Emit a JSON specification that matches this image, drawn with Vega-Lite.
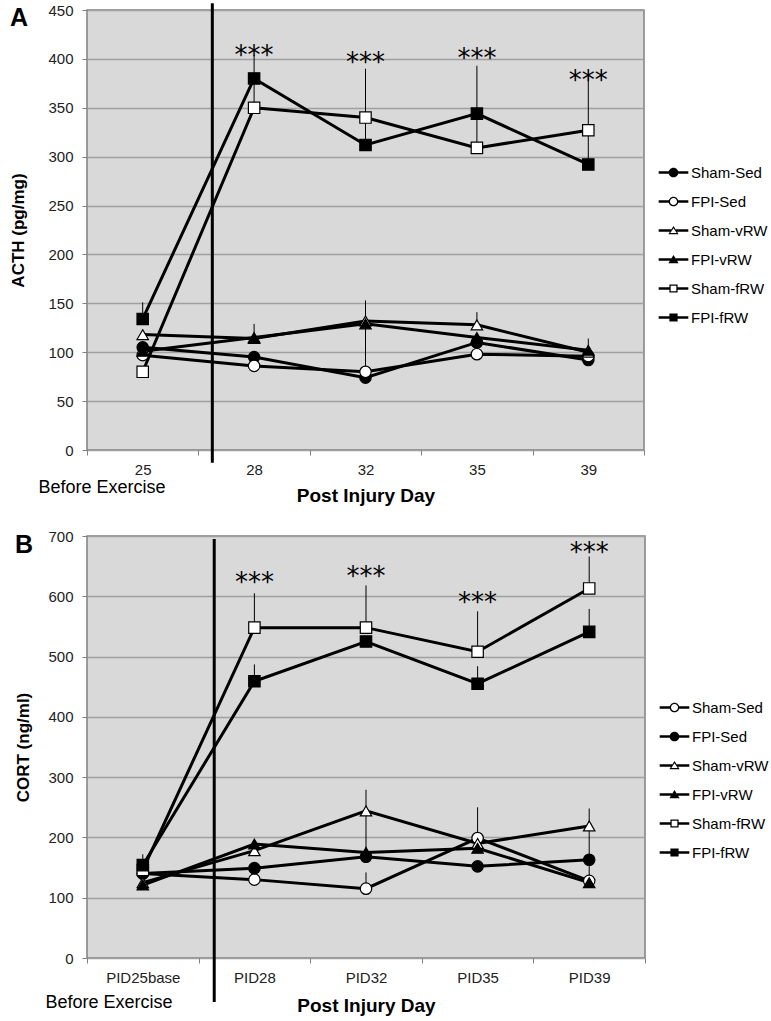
{
  "$schema": "https://vega.github.io/schema/vega-lite/v6.json",
  "background": "white",
  "padding": {"left": 9, "top": 0, "right": 0, "bottom": 0},
  "spacing": 22,
  "config": {
    "font": "Liberation Sans",
    "view": {"fill": "#d9d9d9", "stroke": "#808080", "strokeWidth": 1.5},
    "axis": {"labelFont": "Liberation Sans", "labelFontSize": 15, "labelColor": "#222222", "titleFont": "Liberation Sans", "titleColor": "#000000", "domainColor": "#808080", "tickColor": "#808080", "gridColor": "#a0a0a0", "gridWidth": 1.5},
    "title": {"font": "Liberation Sans", "fontSize": 25, "fontWeight": "bold", "color": "#000000", "anchor": "start", "frame": "bounds"}
  },
  "datasets": {
    "acth": [
      {"group": "Sham-Sed", "day": "25", "value": 105}, {"group": "Sham-Sed", "day": "28", "value": 95}, {"group": "Sham-Sed", "day": "32", "value": 74}, {"group": "Sham-Sed", "day": "35", "value": 110}, {"group": "Sham-Sed", "day": "39", "value": 92},
      {"group": "FPI-Sed", "day": "25", "value": 97}, {"group": "FPI-Sed", "day": "28", "value": 86}, {"group": "FPI-Sed", "day": "32", "value": 80}, {"group": "FPI-Sed", "day": "35", "value": 98}, {"group": "FPI-Sed", "day": "39", "value": 96},
      {"group": "Sham-vRW", "day": "25", "value": 118}, {"group": "Sham-vRW", "day": "28", "value": 114}, {"group": "Sham-vRW", "day": "32", "value": 132}, {"group": "Sham-vRW", "day": "35", "value": 128}, {"group": "Sham-vRW", "day": "39", "value": 100},
      {"group": "FPI-vRW", "day": "25", "value": 101}, {"group": "FPI-vRW", "day": "28", "value": 115}, {"group": "FPI-vRW", "day": "32", "value": 129}, {"group": "FPI-vRW", "day": "35", "value": 115}, {"group": "FPI-vRW", "day": "39", "value": 102},
      {"group": "Sham-fRW", "day": "25", "value": 80}, {"group": "Sham-fRW", "day": "28", "value": 350}, {"group": "Sham-fRW", "day": "32", "value": 340}, {"group": "Sham-fRW", "day": "35", "value": 309}, {"group": "Sham-fRW", "day": "39", "value": 327},
      {"group": "FPI-fRW", "day": "25", "value": 134}, {"group": "FPI-fRW", "day": "28", "value": 380}, {"group": "FPI-fRW", "day": "32", "value": 312}, {"group": "FPI-fRW", "day": "35", "value": 344}, {"group": "FPI-fRW", "day": "39", "value": 292}
    ],
    "acthErr": [
      {"group": "FPI-fRW", "day": "25", "value": 134, "hi": 151},
      {"group": "Sham-fRW", "day": "28", "value": 350, "hi": 404},
      {"group": "FPI-fRW", "day": "32", "value": 312, "hi": 390},
      {"group": "Sham-fRW", "day": "35", "value": 309, "hi": 393},
      {"group": "FPI-fRW", "day": "39", "value": 292, "hi": 381},
      {"group": "Sham-vRW", "day": "32", "value": 132, "hi": 153},
      {"group": "FPI-Sed", "day": "32", "value": 80, "hi": 130},
      {"group": "Sham-vRW", "day": "35", "value": 128, "hi": 141},
      {"group": "FPI-vRW", "day": "28", "value": 115, "hi": 129},
      {"group": "FPI-vRW", "day": "39", "value": 102, "hi": 114}
    ],
    "acthSig": [
      {"day": "28", "y": 411, "label": "***"}, {"day": "32", "y": 404, "label": "***"}, {"day": "35", "y": 408, "label": "***"}, {"day": "39", "y": 386, "label": "***"}
    ],
    "acthSplit": [{"day": "28", "label": "exercise start"}],
    "cort": [
      {"group": "Sham-Sed", "day": "PID25base", "value": 140}, {"group": "Sham-Sed", "day": "PID28", "value": 130}, {"group": "Sham-Sed", "day": "PID32", "value": 115}, {"group": "Sham-Sed", "day": "PID35", "value": 199}, {"group": "Sham-Sed", "day": "PID39", "value": 128},
      {"group": "FPI-Sed", "day": "PID25base", "value": 140}, {"group": "FPI-Sed", "day": "PID28", "value": 149}, {"group": "FPI-Sed", "day": "PID32", "value": 168}, {"group": "FPI-Sed", "day": "PID35", "value": 152}, {"group": "FPI-Sed", "day": "PID39", "value": 163},
      {"group": "Sham-vRW", "day": "PID25base", "value": 125}, {"group": "Sham-vRW", "day": "PID28", "value": 178}, {"group": "Sham-vRW", "day": "PID32", "value": 244}, {"group": "Sham-vRW", "day": "PID35", "value": 190}, {"group": "Sham-vRW", "day": "PID39", "value": 219},
      {"group": "FPI-vRW", "day": "PID25base", "value": 121}, {"group": "FPI-vRW", "day": "PID28", "value": 189}, {"group": "FPI-vRW", "day": "PID32", "value": 175}, {"group": "FPI-vRW", "day": "PID35", "value": 182}, {"group": "FPI-vRW", "day": "PID39", "value": 125},
      {"group": "Sham-fRW", "day": "PID25base", "value": 146}, {"group": "Sham-fRW", "day": "PID28", "value": 548}, {"group": "Sham-fRW", "day": "PID32", "value": 548}, {"group": "Sham-fRW", "day": "PID35", "value": 508}, {"group": "Sham-fRW", "day": "PID39", "value": 613},
      {"group": "FPI-fRW", "day": "PID25base", "value": 154}, {"group": "FPI-fRW", "day": "PID28", "value": 459}, {"group": "FPI-fRW", "day": "PID32", "value": 525}, {"group": "FPI-fRW", "day": "PID35", "value": 455}, {"group": "FPI-fRW", "day": "PID39", "value": 541}
    ],
    "cortErr": [
      {"group": "FPI-fRW", "day": "PID25base", "value": 154, "hi": 172},
      {"group": "Sham-fRW", "day": "PID28", "value": 548, "hi": 605},
      {"group": "Sham-fRW", "day": "PID32", "value": 548, "hi": 618},
      {"group": "Sham-fRW", "day": "PID35", "value": 508, "hi": 575},
      {"group": "Sham-fRW", "day": "PID39", "value": 613, "hi": 666},
      {"group": "FPI-fRW", "day": "PID28", "value": 459, "hi": 487},
      {"group": "FPI-fRW", "day": "PID35", "value": 455, "hi": 484},
      {"group": "FPI-fRW", "day": "PID39", "value": 541, "hi": 579},
      {"group": "Sham-vRW", "day": "PID32", "value": 244, "hi": 279},
      {"group": "FPI-vRW", "day": "PID32", "value": 175, "hi": 244},
      {"group": "Sham-Sed", "day": "PID35", "value": 199, "hi": 250},
      {"group": "Sham-vRW", "day": "PID39", "value": 219, "hi": 248},
      {"group": "Sham-Sed", "day": "PID39", "value": 128, "hi": 219},
      {"group": "Sham-Sed", "day": "PID32", "value": 115, "hi": 142}
    ],
    "cortSig": [
      {"day": "PID28", "y": 635, "label": "***"}, {"day": "PID32", "y": 645, "label": "***"}, {"day": "PID35", "y": 602, "label": "***"}, {"day": "PID39", "y": 685, "label": "***"}
    ],
    "cortSplit": [{"day": "PID28", "label": "exercise start"}]
  },
  "vconcat": [
    {
      "title": {"text": "A", "offset": -29},
      "width": 557,
      "height": 440,
      "resolve": {"scale": {"shape": "independent", "fill": "independent"}, "axis": {"x": "independent"}},
      "layer": [
        {
          "data": {"name": "acthSplit"},
          "mark": {"type": "rule", "color": "black", "strokeWidth": 3},
          "encoding": {
            "x": {"field": "day", "type": "nominal", "bandPosition": 0.125, "scale": {"type": "band", "domain": ["25", "28", "32", "35", "39"], "paddingInner": 0, "paddingOuter": 0}, "axis": null},
            "y": {"datum": 457, "type": "quantitative", "scale": {"domain": [0, 450], "nice": false},
                  "axis": {"title": "ACTH (pg/mg)", "titleFontSize": 17, "titleFontWeight": "bold", "titlePadding": 20, "values": [0, 50, 100, 150, 200, 250, 300, 350, 400, 450], "grid": true, "tickSize": 5, "labelPadding": 9, "domain": false}},
            "y2": {"datum": -13}
          }
        },
        {
          "data": {"name": "acthErr"},
          "mark": {"type": "rule", "color": "black", "strokeWidth": 1},
          "encoding": {
            "x": {"field": "day", "type": "nominal", "scale": {"type": "band", "domain": ["25", "28", "32", "35", "39"], "paddingInner": 0, "paddingOuter": 0},
                  "axis": {"orient": "bottom", "title": "Before Exercise", "labels": false, "ticks": false, "domain": false, "grid": false, "titleFontWeight": "normal", "titleFontSize": 18, "titleAnchor": "start", "titleAlign": "left", "titleX": -49, "titleY": 37, "titleBaseline": "middle"}},
            "y": {"field": "value", "type": "quantitative", "scale": {"domain": [0, 450], "nice": false},
                  "axis": {"title": "ACTH (pg/mg)", "titleFontSize": 17, "titleFontWeight": "bold", "titlePadding": 20, "values": [0, 50, 100, 150, 200, 250, 300, 350, 400, 450], "grid": true, "tickSize": 5, "labelPadding": 9, "domain": false}},
            "y2": {"field": "hi"}
          }
        },
        {
          "data": {"name": "acth"},
          "mark": {"type": "line", "color": "black", "strokeWidth": 3},
          "encoding": {
            "x": {"field": "day", "type": "nominal", "scale": {"type": "band", "domain": ["25", "28", "32", "35", "39"], "paddingInner": 0, "paddingOuter": 0},
                  "axis": {"orient": "bottom", "title": "Post Injury Day", "titleFontSize": 19, "titleFontWeight": "bold", "titleY": 45, "titleBaseline": "middle", "labelAngle": 0, "labelPadding": 7, "tickBand": "extent", "tickSize": 5, "domain": false, "grid": false}},
            "y": {"field": "value", "type": "quantitative", "scale": {"domain": [0, 450], "nice": false},
                  "axis": {"title": "ACTH (pg/mg)", "titleFontSize": 17, "titleFontWeight": "bold", "titlePadding": 20, "values": [0, 50, 100, 150, 200, 250, 300, 350, 400, 450], "grid": true, "tickSize": 5, "labelPadding": 9, "domain": false}},
            "detail": {"field": "group", "type": "nominal"}
          }
        },
        {
          "data": {"name": "acth"},
          "mark": {"type": "point", "filled": true, "stroke": "black", "strokeWidth": 1.2, "size": 130, "opacity": 1},
          "encoding": {
            "x": {"field": "day", "type": "nominal", "scale": {"type": "band", "domain": ["25", "28", "32", "35", "39"], "paddingInner": 0, "paddingOuter": 0}, "axis": null},
            "y": {"field": "value", "type": "quantitative", "scale": {"domain": [0, 450], "nice": false},
                  "axis": {"title": "ACTH (pg/mg)", "titleFontSize": 17, "titleFontWeight": "bold", "titlePadding": 20, "values": [0, 50, 100, 150, 200, 250, 300, 350, 400, 450], "grid": true, "tickSize": 5, "labelPadding": 9, "domain": false}},
            "shape": {"field": "group", "type": "nominal", "scale": {"domain": ["Sham-Sed", "FPI-Sed", "Sham-vRW", "FPI-vRW", "Sham-fRW", "FPI-fRW"], "range": ["circle", "circle", "triangle-up", "triangle-up", "square", "square"]}, "legend": null},
            "fill": {"field": "group", "type": "nominal", "scale": {"domain": ["Sham-Sed", "FPI-Sed", "Sham-vRW", "FPI-vRW", "Sham-fRW", "FPI-fRW"], "range": ["black", "white", "white", "black", "white", "black"]}, "legend": null}
          }
        },
        {
          "data": {"name": "acth"},
          "mark": {"type": "point", "filled": true, "color": "black", "opacity": 0},
          "encoding": {
            "x": {"field": "day", "type": "nominal", "scale": {"type": "band", "domain": ["25", "28", "32", "35", "39"], "paddingInner": 0, "paddingOuter": 0}, "axis": null},
            "y": {"field": "value", "type": "quantitative", "scale": {"domain": [0, 450], "nice": false},
                  "axis": {"title": "ACTH (pg/mg)", "titleFontSize": 17, "titleFontWeight": "bold", "titlePadding": 20, "values": [0, 50, 100, 150, 200, 250, 300, 350, 400, 450], "grid": true, "tickSize": 5, "labelPadding": 9, "domain": false}},
            "shape": {"field": "group", "type": "nominal",
                      "scale": {"domain": ["Sham-Sed", "FPI-Sed", "Sham-vRW", "FPI-vRW", "Sham-fRW", "FPI-fRW"],
                                "range": [
                                  "M-2.6,-0.24H-0.8V0.24H-2.6ZM0.8,-0.24H2.6V0.24H0.8ZM0.85,0A0.85,0.85,0,1,1,-0.85,0A0.85,0.85,0,1,1,0.85,0Z",
                                  "M-2.6,-0.24H-0.8V0.24H-2.6ZM0.8,-0.24H2.6V0.24H0.8ZM0.85,0A0.85,0.85,0,1,1,-0.85,0A0.85,0.85,0,1,1,0.85,0ZM0.62,0A0.62,0.62,0,1,0,-0.62,0A0.62,0.62,0,1,0,0.62,0Z",
                                  "M-2.6,-0.24H-0.42V0.24H-2.6ZM0.42,-0.24H2.6V0.24H0.42ZM0,-0.8L0.9,0.65L-0.9,0.65ZM0,-0.4L-0.56,0.45L0.56,0.45Z",
                                  "M-2.6,-0.24H-0.42V0.24H-2.6ZM0.42,-0.24H2.6V0.24H0.42ZM0,-0.8L0.9,0.65L-0.9,0.65Z",
                                  "M-2.6,-0.24H-0.7V0.24H-2.6ZM0.7,-0.24H2.6V0.24H0.7ZM-0.72,-0.72H0.72V0.72H-0.72ZM-0.5,-0.5V0.5H0.5V-0.5Z",
                                  "M-2.6,-0.24H-0.7V0.24H-2.6ZM0.7,-0.24H2.6V0.24H0.7ZM-0.72,-0.72H0.72V0.72H-0.72Z"]},
                      "legend": {"title": null, "orient": "none", "legendX": 579, "legendY": 155, "symbolSize": 130, "symbolStrokeWidth": 0, "symbolOpacity": 1, "labelFont": "Liberation Sans", "labelFontSize": 15, "labelColor": "black", "labelOffset": 10, "rowPadding": 13, "padding": 0}}
          }
        },
        {
          "data": {"name": "acthSig"},
          "mark": {"type": "text", "font": "DejaVu Sans", "fontSize": 26, "baseline": "middle", "dy": 8, "color": "black"},
          "encoding": {
            "x": {"field": "day", "type": "nominal", "scale": {"type": "band", "domain": ["25", "28", "32", "35", "39"], "paddingInner": 0, "paddingOuter": 0}, "axis": null},
            "y": {"field": "y", "type": "quantitative", "scale": {"domain": [0, 450], "nice": false},
                  "axis": {"title": "ACTH (pg/mg)", "titleFontSize": 17, "titleFontWeight": "bold", "titlePadding": 20, "values": [0, 50, 100, 150, 200, 250, 300, 350, 400, 450], "grid": true, "tickSize": 5, "labelPadding": 9, "domain": false}},
            "text": {"field": "label"}
          }
        }
      ]
    },
    {
      "title": {"text": "B", "offset": -29},
      "width": 558,
      "height": 422,
      "resolve": {"scale": {"shape": "independent", "fill": "independent"}, "axis": {"x": "independent"}},
      "layer": [
        {
          "data": {"name": "cortSplit"},
          "mark": {"type": "rule", "color": "black", "strokeWidth": 3},
          "encoding": {
            "x": {"field": "day", "type": "nominal", "bandPosition": 0.14, "scale": {"type": "band", "domain": ["PID25base", "PID28", "PID32", "PID35", "PID39"], "paddingInner": 0, "paddingOuter": 0}, "axis": null},
            "y": {"datum": 695, "type": "quantitative", "scale": {"domain": [0, 700], "nice": false},
                  "axis": {"title": "CORT (ng/ml)", "titleFontSize": 17, "titleFontWeight": "bold", "titlePadding": 15, "values": [0, 100, 200, 300, 400, 500, 600, 700], "grid": true, "tickSize": 5, "labelPadding": 9, "domain": false}},
            "y2": {"datum": -73}
          }
        },
        {
          "data": {"name": "cortErr"},
          "mark": {"type": "rule", "color": "black", "strokeWidth": 1},
          "encoding": {
            "x": {"field": "day", "type": "nominal", "scale": {"type": "band", "domain": ["PID25base", "PID28", "PID32", "PID35", "PID39"], "paddingInner": 0, "paddingOuter": 0},
                  "axis": {"orient": "bottom", "title": "Before Exercise", "labels": false, "ticks": false, "domain": false, "grid": false, "titleFontWeight": "normal", "titleFontSize": 18, "titleAnchor": "start", "titleAlign": "left", "titleX": -42, "titleY": 44, "titleBaseline": "middle"}},
            "y": {"field": "value", "type": "quantitative", "scale": {"domain": [0, 700], "nice": false},
                  "axis": {"title": "CORT (ng/ml)", "titleFontSize": 17, "titleFontWeight": "bold", "titlePadding": 15, "values": [0, 100, 200, 300, 400, 500, 600, 700], "grid": true, "tickSize": 5, "labelPadding": 9, "domain": false}},
            "y2": {"field": "hi"}
          }
        },
        {
          "data": {"name": "cort"},
          "mark": {"type": "line", "color": "black", "strokeWidth": 3},
          "encoding": {
            "x": {"field": "day", "type": "nominal", "scale": {"type": "band", "domain": ["PID25base", "PID28", "PID32", "PID35", "PID39"], "paddingInner": 0, "paddingOuter": 0},
                  "axis": {"orient": "bottom", "title": "Post Injury Day", "titleFontSize": 19, "titleFontWeight": "bold", "titleY": 47, "titleBaseline": "middle", "labelAngle": 0, "labelPadding": 7, "tickBand": "extent", "tickSize": 5, "domain": false, "grid": false}},
            "y": {"field": "value", "type": "quantitative", "scale": {"domain": [0, 700], "nice": false},
                  "axis": {"title": "CORT (ng/ml)", "titleFontSize": 17, "titleFontWeight": "bold", "titlePadding": 15, "values": [0, 100, 200, 300, 400, 500, 600, 700], "grid": true, "tickSize": 5, "labelPadding": 9, "domain": false}},
            "detail": {"field": "group", "type": "nominal"}
          }
        },
        {
          "data": {"name": "cort"},
          "mark": {"type": "point", "filled": true, "stroke": "black", "strokeWidth": 1.2, "size": 130, "opacity": 1},
          "encoding": {
            "x": {"field": "day", "type": "nominal", "scale": {"type": "band", "domain": ["PID25base", "PID28", "PID32", "PID35", "PID39"], "paddingInner": 0, "paddingOuter": 0}, "axis": null},
            "y": {"field": "value", "type": "quantitative", "scale": {"domain": [0, 700], "nice": false},
                  "axis": {"title": "CORT (ng/ml)", "titleFontSize": 17, "titleFontWeight": "bold", "titlePadding": 15, "values": [0, 100, 200, 300, 400, 500, 600, 700], "grid": true, "tickSize": 5, "labelPadding": 9, "domain": false}},
            "shape": {"field": "group", "type": "nominal", "scale": {"domain": ["Sham-Sed", "FPI-Sed", "Sham-vRW", "FPI-vRW", "Sham-fRW", "FPI-fRW"], "range": ["circle", "circle", "triangle-up", "triangle-up", "square", "square"]}, "legend": null},
            "fill": {"field": "group", "type": "nominal", "scale": {"domain": ["Sham-Sed", "FPI-Sed", "Sham-vRW", "FPI-vRW", "Sham-fRW", "FPI-fRW"], "range": ["white", "black", "white", "black", "white", "black"]}, "legend": null}
          }
        },
        {
          "data": {"name": "cort"},
          "mark": {"type": "point", "filled": true, "color": "black", "opacity": 0},
          "encoding": {
            "x": {"field": "day", "type": "nominal", "scale": {"type": "band", "domain": ["PID25base", "PID28", "PID32", "PID35", "PID39"], "paddingInner": 0, "paddingOuter": 0}, "axis": null},
            "y": {"field": "value", "type": "quantitative", "scale": {"domain": [0, 700], "nice": false},
                  "axis": {"title": "CORT (ng/ml)", "titleFontSize": 17, "titleFontWeight": "bold", "titlePadding": 15, "values": [0, 100, 200, 300, 400, 500, 600, 700], "grid": true, "tickSize": 5, "labelPadding": 9, "domain": false}},
            "shape": {"field": "group", "type": "nominal",
                      "scale": {"domain": ["Sham-Sed", "FPI-Sed", "Sham-vRW", "FPI-vRW", "Sham-fRW", "FPI-fRW"],
                                "range": [
                                  "M-2.6,-0.24H-0.8V0.24H-2.6ZM0.8,-0.24H2.6V0.24H0.8ZM0.85,0A0.85,0.85,0,1,1,-0.85,0A0.85,0.85,0,1,1,0.85,0ZM0.62,0A0.62,0.62,0,1,0,-0.62,0A0.62,0.62,0,1,0,0.62,0Z",
                                  "M-2.6,-0.24H-0.8V0.24H-2.6ZM0.8,-0.24H2.6V0.24H0.8ZM0.85,0A0.85,0.85,0,1,1,-0.85,0A0.85,0.85,0,1,1,0.85,0Z",
                                  "M-2.6,-0.24H-0.42V0.24H-2.6ZM0.42,-0.24H2.6V0.24H0.42ZM0,-0.8L0.9,0.65L-0.9,0.65ZM0,-0.4L-0.56,0.45L0.56,0.45Z",
                                  "M-2.6,-0.24H-0.42V0.24H-2.6ZM0.42,-0.24H2.6V0.24H0.42ZM0,-0.8L0.9,0.65L-0.9,0.65Z",
                                  "M-2.6,-0.24H-0.7V0.24H-2.6ZM0.7,-0.24H2.6V0.24H0.7ZM-0.72,-0.72H0.72V0.72H-0.72ZM-0.5,-0.5V0.5H0.5V-0.5Z",
                                  "M-2.6,-0.24H-0.7V0.24H-2.6ZM0.7,-0.24H2.6V0.24H0.7ZM-0.72,-0.72H0.72V0.72H-0.72Z"]},
                      "legend": {"title": null, "orient": "none", "legendX": 580, "legendY": 164, "symbolSize": 130, "symbolStrokeWidth": 0, "symbolOpacity": 1, "labelFont": "Liberation Sans", "labelFontSize": 15, "labelColor": "black", "labelOffset": 10, "rowPadding": 13, "padding": 0}}
          }
        },
        {
          "data": {"name": "cortSig"},
          "mark": {"type": "text", "font": "DejaVu Sans", "fontSize": 26, "baseline": "middle", "dy": 8, "color": "black"},
          "encoding": {
            "x": {"field": "day", "type": "nominal", "scale": {"type": "band", "domain": ["PID25base", "PID28", "PID32", "PID35", "PID39"], "paddingInner": 0, "paddingOuter": 0}, "axis": null},
            "y": {"field": "y", "type": "quantitative", "scale": {"domain": [0, 700], "nice": false},
                  "axis": {"title": "CORT (ng/ml)", "titleFontSize": 17, "titleFontWeight": "bold", "titlePadding": 15, "values": [0, 100, 200, 300, 400, 500, 600, 700], "grid": true, "tickSize": 5, "labelPadding": 9, "domain": false}},
            "text": {"field": "label"}
          }
        }
      ]
    }
  ]
}
